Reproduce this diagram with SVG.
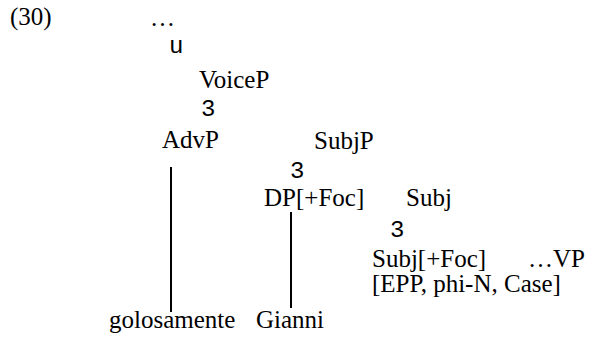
<svg xmlns="http://www.w3.org/2000/svg" width="589" height="338" viewBox="0 0 589 338">
<style>
.t{font-family:"Liberation Serif","Times New Roman",serif;font-size:25px;fill:#000}
.m{font-family:"Liberation Mono","Courier New",monospace;font-size:24px;fill:#000}
.c{stroke:#000;stroke-width:2;fill:none}
</style>
<rect width="589" height="338" fill="#fff"/>
<text class="t" x="10" y="25">(30)</text>
<g id="dots"><text class="t" x="150" y="26">…</text></g>
<g id="u"><text class="m" x="169" y="53">u</text></g>
<g id="VoiceP"><text class="t" x="199" y="88">VoiceP</text></g>
<g id="branch1"><text class="m" x="201" y="116">3</text></g>
<g id="AdvP"><text class="t" x="162" y="148">AdvP</text></g>
<g id="SubjP"><text class="t" x="314" y="149">SubjP</text></g>
<g id="branch2"><text class="m" x="290" y="178">3</text></g>
<g id="DP"><text class="t" x="264" y="206">DP[+Foc]</text></g>
<g id="Subj"><text class="t" x="406" y="206">Subj</text></g>
<g id="branch3"><text class="m" x="390" y="237">3</text></g>
<g id="SubjFoc"><text class="t" x="372" y="267">Subj[+Foc]</text><text class="t" x="372" y="292">[EPP, phi-N, Case]</text></g>
<g id="VP"><text class="t" x="528" y="267">…VP</text></g>
<g id="golosamente"><text class="t" x="109" y="328">golosamente</text></g>
<g id="Gianni"><text class="t" x="256" y="328">Gianni</text></g>
<g id="connectors">
<line class="c" x1="171" y1="167" x2="171" y2="312"/>
<line class="c" x1="291" y1="212" x2="291" y2="308"/>
</g>
</svg>
